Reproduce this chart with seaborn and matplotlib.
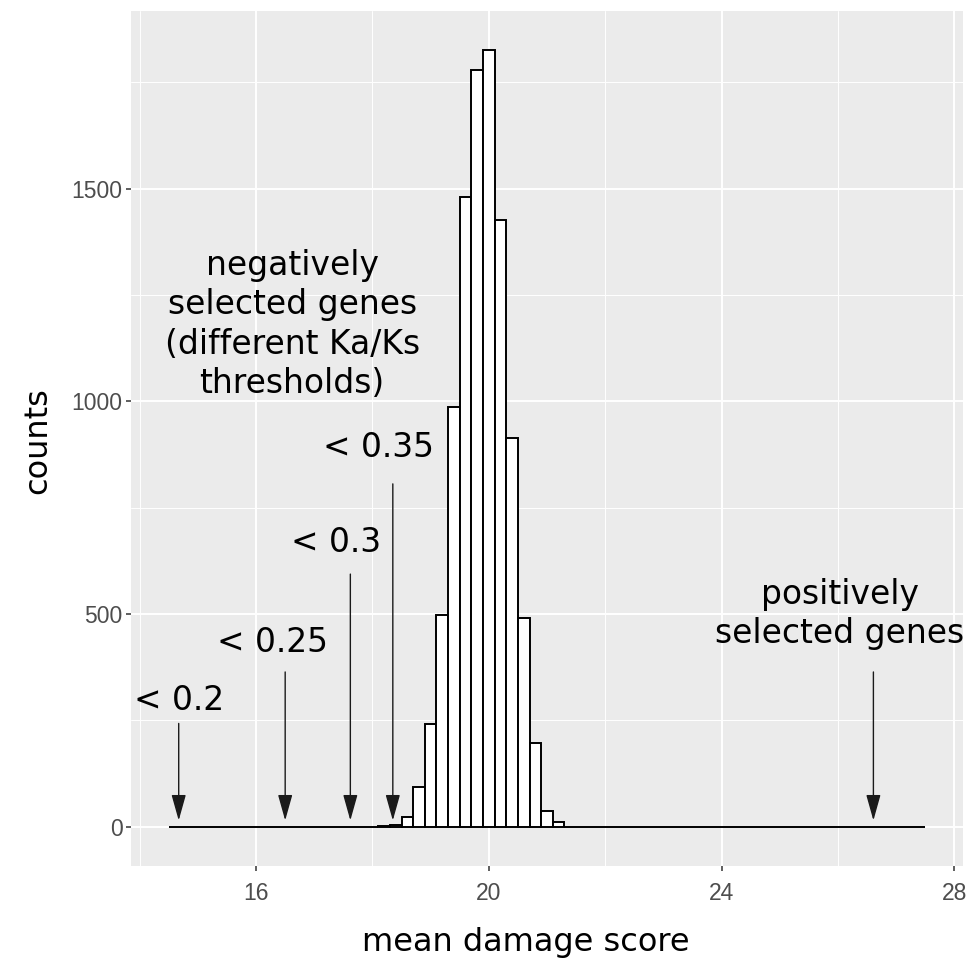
import numpy as np
import pandas as pd
import matplotlib
matplotlib.use("Agg")
import matplotlib.pyplot as plt
import seaborn as sns

# Mean damage score histogram: bin centres (width 0.2) and number of genes per bin
score_bins = [18.2, 18.4, 18.6, 18.8, 19.0, 19.2, 19.4, 19.6, 19.8,
              20.0, 20.2, 20.4, 20.6, 20.8, 21.0, 21.2]
gene_counts = [2, 5, 22, 94, 241, 498, 986, 1481, 1778,
               1826, 1425, 914, 490, 197, 38, 12]
score_range = (14.5, 27.5)

# Ka/Ks threshold labels and the arrows pointing at those genes
thr_labels = ["< 0.2", "< 0.25", "< 0.3", "< 0.35"]
thr_label_x = [14.68, 16.29, 17.37, 18.10]
thr_label_y = [298, 434, 668, 891]
thr_arrow_x = [14.67, 16.50, 17.62, 18.35]
thr_arrow_top = [243, 364, 594, 806]

neg_title = "negatively\nselected genes\n(different Ka/Ks\nthresholds)"
neg_title_xy = (16.62, 1180)
pos_title = "positively\nselected genes"
pos_title_xy = (26.03, 500)
pos_arrow_x = 26.61
pos_arrow_top = 364
arrow_tip = 15

x_major = [16, 20, 24, 28]
x_minor = [14, 18, 22, 26]
y_major = [0, 500, 1000, 1500]
y_minor = [250, 750, 1250, 1750]

sns.set_theme(style="darkgrid")
plt.rcParams["font.family"] = ["DejaVu Sans"]
plt.rcParams["text.color"] = "black"

df = pd.DataFrame({"score": score_bins, "count": gene_counts})

fig = plt.figure(figsize=(9.75, 9.65), dpi=100)
ax = fig.add_axes([131 / 975, 1 - 865.7 / 965, (963 - 131) / 975, (865.7 - 11) / 965])
ax.set_facecolor("#EBEBEB")

lo, hi = score_range
sns.histplot(data=df, x="score", weights="count", bins=65, binrange=score_range,
             color="white", edgecolor="black", linewidth=1.4, alpha=1,
             ax=ax, zorder=3)

ax.set_xlim(lo - 0.05 * (hi - lo), hi + 0.05 * (hi - lo))
ymax = max(gene_counts)
ax.set_ylim(-0.05 * ymax, 1.05 * ymax)

ax.set_xticks(x_major)
ax.set_xticks(x_minor, minor=True)
ax.set_yticks(y_major)
ax.set_yticks(y_minor, minor=True)
ax.grid(which="major", color="white", linewidth=1.4)
ax.grid(which="minor", color="white", linewidth=0.7)
ax.set_axisbelow(True)
for s in ax.spines.values():
    s.set_visible(False)

ax.tick_params(which="major", length=3.6, width=1.1, color="#333333",
               labelcolor="#4D4D4D", labelsize=16.5, bottom=True, left=True)
ax.tick_params(axis="x", which="major", pad=8)
ax.tick_params(axis="y", which="major", pad=2.5)
ax.tick_params(which="minor", length=0)
for lab in ax.get_xticklabels() + ax.get_yticklabels():
    lab.set_fontfamily(["Liberation Sans", "DejaVu Sans"])

ax.set_xlabel("mean damage score", fontsize=23, color="black")
ax.set_ylabel("counts", fontsize=23, color="black")
ax.xaxis.label.set_va("baseline")
ax.xaxis.set_label_coords((526 - 131) / 832, (865.7 - 951) / 854.7)
ax.yaxis.label.set_va("baseline")
ax.yaxis.set_label_coords((46 - 131) / 832, (865.7 - 441) / 854.7)

ann_size = 23.7
arrow_props = dict(arrowstyle="-|>,head_length=1.0,head_width=0.28",
                   mutation_scale=16, color="#1A1A1A", lw=1.0,
                   shrinkA=0, shrinkB=0)

for lab, lx, ly in zip(thr_labels, thr_label_x, thr_label_y):
    ax.text(lx, ly, lab, ha="center", va="center", fontsize=ann_size,
            color="black", zorder=5)
for axx, top in zip(thr_arrow_x, thr_arrow_top):
    ax.annotate("", xy=(axx, arrow_tip), xytext=(axx, top),
                arrowprops=arrow_props, zorder=5)

ax.text(*neg_title_xy, neg_title, ha="center", va="center", color="black",
        fontsize=ann_size, linespacing=1.25, zorder=5)
ax.text(*pos_title_xy, pos_title, ha="center", va="center", color="black",
        fontsize=ann_size, linespacing=1.25, zorder=5)
ax.annotate("", xy=(pos_arrow_x, arrow_tip), xytext=(pos_arrow_x, pos_arrow_top),
            arrowprops=arrow_props, zorder=5)

fig.savefig("out.png", dpi=100)
